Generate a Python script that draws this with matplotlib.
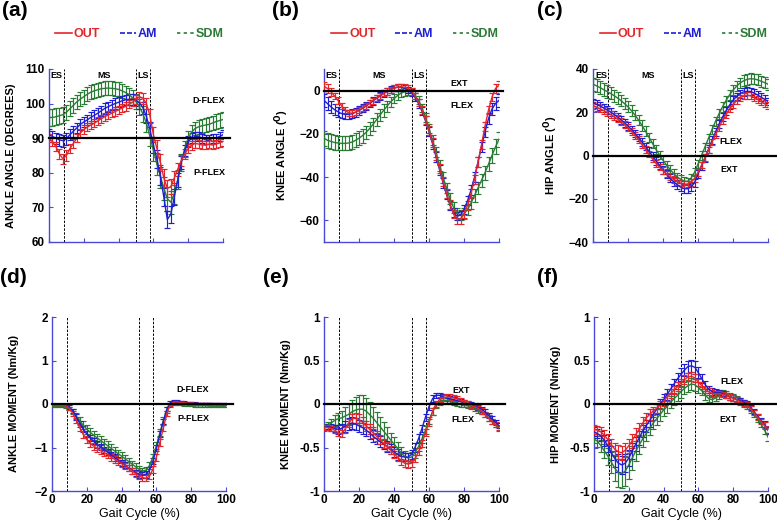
import numpy as np
import matplotlib
matplotlib.use('Agg')
import matplotlib.pyplot as plt
from matplotlib.lines import Line2D

plt.rcParams['font.family'] = ['Liberation Sans', 'DejaVu Sans']

# gait cycle samples (%)
gait = list(range(0, 101, 2))

# ---- (a) ankle angle (degrees) ----
a_out = [90, 89, 87.5, 85.5, 84, 85, 87, 88.5, 90, 91.5,
         92.5, 93.2, 93.8, 94.3, 95, 95.6, 96.2, 96.7, 97.2, 97.7,
         98.2, 98.7, 99.2, 99.8, 100.4, 101.2, 102, 101.5, 100, 96.5,
         91, 87, 83, 78.5, 75.5, 76, 78.5, 81, 83.5, 85.5,
         87, 88, 88.5, 88.3, 88, 88, 88.3, 88, 88.3, 88.7, 89]
a_out_sd = [1.2, 1.2, 1.3, 1.4, 1.5, 1.5, 1.4, 1.3, 1.2, 1.2,
            1.2, 1.2, 1.2, 1.2, 1.2, 1.2, 1.2, 1.2, 1.2, 1.2,
            1.2, 1.2, 1.2, 1.2, 1.2, 1.3, 1.4, 1.5, 1.7, 2.0,
            2.2, 2.4, 2.5, 2.5, 2.4, 2.2, 2.0, 1.8, 1.6, 1.5,
            1.4, 1.3, 1.2, 1.2, 1.2, 1.2, 1.2, 1.2, 1.2, 1.2, 1.2]
a_am = [91, 90.5, 90, 89.5, 89.3, 89.8, 91, 92, 93, 94,
        94.7, 95.3, 96, 96.6, 97.2, 97.9, 98.6, 99.1, 99.6, 100,
        100.4, 100.8, 101.1, 101.2, 101.2, 101, 100.2, 98.8, 96.3, 92.5,
        88, 84, 79, 73, 66.5, 68, 73, 78, 83, 86.5,
        89, 90, 90.5, 90.5, 90, 89.5, 89.5, 90, 90, 90.5, 91]
a_am_sd = [1.6, 1.6, 1.6, 1.7, 1.7, 1.7, 1.6, 1.6, 1.5, 1.5,
           1.5, 1.5, 1.5, 1.5, 1.5, 1.5, 1.5, 1.5, 1.5, 1.5,
           1.5, 1.5, 1.5, 1.5, 1.5, 1.6, 1.7, 1.8, 2.0, 2.2,
           2.4, 2.5, 2.6, 2.6, 2.5, 2.4, 2.2, 2.0, 1.8, 1.6,
           1.5, 1.4, 1.3, 1.3, 1.3, 1.3, 1.3, 1.3, 1.3, 1.3, 1.3]
a_sdm = [96, 96, 96.2, 96.5, 96.8, 97.5, 98.5, 99.5, 100.5, 101.3,
         102, 102.7, 103.3, 103.7, 104, 104.3, 104.4, 104.5, 104.4, 104.3,
         104.1, 103.7, 103.2, 102.6, 101.7, 100.6, 99, 97, 94.3, 90.5,
         86.5, 82.5, 79, 75.5, 72.5, 71.5, 74, 78, 83, 87,
         90, 91.8, 92.8, 93.3, 93.6, 93.8, 94, 94.4, 94.8, 95.1, 95.4]
a_sdm_sd = [2.4, 2.4, 2.4, 2.3, 2.3, 2.2, 2.2, 2.1, 2.1, 2.0,
            2.0, 2.0, 2.0, 2.0, 2.0, 2.0, 2.0, 2.0, 2.0, 2.0,
            2.0, 2.0, 2.0, 2.0, 2.1, 2.2, 2.3, 2.4, 2.6, 2.8,
            3.0, 3.2, 3.3, 3.4, 3.4, 3.3, 3.1, 2.8, 2.5, 2.3,
            2.2, 2.1, 2.0, 2.0, 2.0, 2.0, 2.0, 2.1, 2.2, 2.2, 2.3]

# ---- (b) knee angle (deg) ----
b_out = [2, 1, -0.5, -2.5, -4.5, -7, -9, -10.2, -10.5, -10,
         -9, -8, -7, -5.8, -4.6, -3.4, -2.3, -1.3, -0.4, 0.4,
         1.1, 1.6, 1.8, 1.6, 1, -0.3, -2.5, -5.5, -9, -13.5,
         -18.5, -24, -30, -36, -42, -47.5, -52.5, -57, -59.5, -59.5,
         -57, -53, -47.5, -41, -33, -25, -16.5, -9, -3, 1, 2.5]
b_out_sd = [2.2, 2.0, 1.8, 1.6, 1.5, 1.4, 1.4, 1.4, 1.4, 1.4,
            1.4, 1.4, 1.4, 1.4, 1.4, 1.4, 1.4, 1.4, 1.4, 1.4,
            1.4, 1.4, 1.4, 1.4, 1.4, 1.5, 1.6, 1.7, 1.8, 1.9,
            2.0, 2.1, 2.2, 2.2, 2.2, 2.2, 2.1, 2.0, 2.0, 2.0,
            2.0, 2.1, 2.2, 2.2, 2.2, 2.2, 2.1, 2.0, 2.0, 2.0, 2.0]
b_am = [-4.5, -6, -7.5, -8.8, -9.8, -10.6, -11, -11, -10.7, -10,
        -9.2, -8.2, -7.1, -6, -4.8, -3.6, -2.5, -1.4, -0.4, 0.5,
        1.2, 1.6, 1.6, 1.2, 0.3, -1, -3, -6, -9.5, -14,
        -19, -24.5, -30.5, -36.5, -42.5, -48, -53, -56.5, -58, -57.5,
        -55, -51, -46, -40, -33, -26, -19, -13, -8.5, -6, -4.5]
b_am_sd = [3.0, 2.9, 2.8, 2.6, 2.4, 2.2, 2.0, 2.0, 2.0, 2.0,
           1.9, 1.9, 1.8, 1.8, 1.8, 1.7, 1.7, 1.7, 1.6, 1.6,
           1.6, 1.6, 1.6, 1.6, 1.6, 1.7, 1.8, 1.9, 2.0, 2.1,
           2.2, 2.3, 2.3, 2.3, 2.3, 2.2, 2.1, 2.0, 2.0, 2.0,
           2.0, 2.1, 2.2, 2.2, 2.2, 2.3, 2.4, 2.6, 2.8, 3.0, 3.0]
b_sdm = [-22, -23, -23.5, -24, -24.2, -24.4, -24.4, -24.2, -23.8, -23,
         -22, -20.8, -19.4, -17.6, -15.6, -13.5, -11.3, -9.2, -7.2, -5.3,
         -3.7, -2.3, -1.2, -0.5, -0.3, -0.8, -2.2, -4.5, -8, -12.5,
         -17.5, -23, -28.5, -34.5, -40, -45, -50, -54, -56.5, -57.5,
         -57, -55, -52, -48.5, -45, -41.5, -38, -34, -30, -26, -22.5]
b_sdm_sd = [3.4, 3.4, 3.3, 3.3, 3.2, 3.2, 3.2, 3.2, 3.2, 3.2,
            3.2, 3.2, 3.1, 3.1, 3.0, 3.0, 2.9, 2.8, 2.6, 2.4,
            2.2, 2.0, 1.9, 1.8, 1.8, 1.8, 1.8, 1.9, 2.0, 2.1,
            2.2, 2.3, 2.4, 2.5, 2.5, 2.5, 2.5, 2.4, 2.4, 2.4,
            2.5, 2.6, 2.7, 2.8, 2.9, 3.0, 3.1, 3.2, 3.3, 3.4, 3.4]

# ---- (c) hip angle (deg) ----
c_out = [23, 22.3, 21.6, 20.8, 20, 19, 18, 16.9, 15.7, 14.4,
         13, 11.2, 9.3, 7.2, 5, 2.8, 0.6, -1.6, -3.6, -5.4,
         -7, -8.5, -9.8, -11, -12, -12.8, -13.3, -13.2, -12.4, -10.6,
         -7.8, -4.5, -1, 2.6, 6.2, 9.7, 13, 16.2, 19, 21.5,
         23.6, 25.3, 26.6, 27.5, 27.8, 27.6, 26.9, 26, 25, 24, 23]
c_out_sd = [1.6, 1.6, 1.6, 1.6, 1.6, 1.6, 1.6, 1.6, 1.6, 1.6,
            1.6, 1.6, 1.6, 1.6, 1.6, 1.5, 1.5, 1.5, 1.5, 1.5,
            1.5, 1.5, 1.5, 1.5, 1.5, 1.5, 1.5, 1.5, 1.5, 1.5,
            1.5, 1.5, 1.5, 1.5, 1.5, 1.5, 1.6, 1.6, 1.6, 1.6,
            1.6, 1.6, 1.6, 1.6, 1.6, 1.6, 1.6, 1.6, 1.6, 1.6, 1.6]
c_am = [24.5, 23.7, 22.9, 22, 21.1, 20.1, 19, 17.8, 16.5, 15.1,
        13.6, 12, 10.2, 8.3, 6.3, 4.2, 2, -0.2, -2.4, -4.6,
        -6.7, -8.7, -10.5, -12.1, -13.5, -14.6, -15.3, -15.4, -14.6, -12.6,
        -8.5, -4.8, -1, 3, 7, 10.8, 14.4, 17.7, 20.7, 23.3,
        25.5, 27.3, 28.6, 29.4, 29.7, 29.6, 28.9, 28, 27, 26, 25]
c_am_sd = [1.8, 1.8, 1.8, 1.8, 1.8, 1.8, 1.8, 1.8, 1.8, 1.8,
           1.8, 1.8, 1.8, 1.8, 1.8, 1.8, 1.8, 1.8, 1.8, 1.8,
           1.8, 1.8, 1.9, 1.9, 2.0, 2.0, 2.0, 2.0, 2.0, 1.9,
           1.9, 1.8, 1.8, 1.8, 1.8, 1.8, 1.8, 1.8, 1.8, 1.8,
           1.8, 1.8, 1.8, 1.8, 1.8, 1.8, 1.8, 1.8, 1.8, 1.8, 1.8]
c_sdm = [33, 32.2, 31.4, 30.5, 29.6, 28.7, 27.7, 26.6, 25.4, 24,
         22.5, 20.7, 18.7, 16.4, 13.9, 11.2, 8.4, 5.6, 2.8, 0.2,
         -2.2, -4.4, -6.4, -8.2, -9.8, -11, -11.8, -12, -10.5, -7.8,
         -4, 0, 4, 8, 12, 15.8, 19.3, 22.5, 25.4, 28,
         30.2, 32, 33.5, 34.5, 35.2, 35.5, 35.4, 35, 34.4, 33.7, 33]
c_sdm_sd = [3.0, 3.0, 2.9, 2.9, 2.8, 2.8, 2.8, 2.7, 2.7, 2.6,
            2.6, 2.5, 2.5, 2.4, 2.4, 2.3, 2.2, 2.1, 2.0, 2.0,
            1.9, 1.9, 1.8, 1.8, 1.8, 1.8, 1.8, 1.8, 1.8, 1.8,
            1.9, 1.9, 2.0, 2.0, 2.1, 2.1, 2.2, 2.2, 2.3, 2.3,
            2.4, 2.4, 2.5, 2.5, 2.5, 2.5, 2.5, 2.5, 2.5, 2.5, 2.5]

# ---- (d) ankle moment (Nm/Kg) ----
d_out = [-0.02, -0.02, -0.03, -0.03, -0.04, -0.1, -0.22, -0.38, -0.55, -0.7,
         -0.82, -0.91, -0.97, -1.02, -1.07, -1.12, -1.17, -1.22, -1.27, -1.32,
         -1.37, -1.42, -1.48, -1.54, -1.6, -1.65, -1.69, -1.71, -1.66, -1.5,
         -1.22, -0.88, -0.55, -0.22, -0.01, 0.05, 0.05, 0.04, 0.03, 0.02,
         0.02, 0.01, 0.01, 0.01, 0.01, 0.01, 0, 0, 0, -0.01, -0.01]
d_out_sd = [0.02, 0.02, 0.02, 0.02, 0.03, 0.04, 0.05, 0.06, 0.07, 0.08,
            0.08, 0.08, 0.08, 0.08, 0.08, 0.08, 0.08, 0.08, 0.08, 0.08,
            0.07, 0.07, 0.07, 0.07, 0.07, 0.07, 0.07, 0.07, 0.07, 0.08,
            0.08, 0.08, 0.07, 0.06, 0.04, 0.03, 0.03, 0.02, 0.02, 0.02,
            0.02, 0.02, 0.02, 0.02, 0.02, 0.02, 0.02, 0.02, 0.02, 0.02, 0.02]
d_am = [-0.01, -0.01, -0.02, -0.02, -0.03, -0.07, -0.16, -0.3, -0.45, -0.58,
        -0.69, -0.78, -0.86, -0.93, -0.99, -1.05, -1.11, -1.17, -1.23, -1.29,
        -1.35, -1.41, -1.47, -1.53, -1.58, -1.62, -1.64, -1.62, -1.52, -1.32,
        -1.02, -0.7, -0.4, -0.12, 0.03, 0.07, 0.07, 0.05, 0.04, 0.03,
        0.02, 0.02, 0.01, 0.01, 0.01, 0.01, 0.01, 0, 0, 0, 0]
d_am_sd = [0.02, 0.02, 0.02, 0.02, 0.03, 0.04, 0.05, 0.06, 0.07, 0.07,
           0.07, 0.07, 0.07, 0.07, 0.07, 0.07, 0.07, 0.07, 0.07, 0.07,
           0.07, 0.07, 0.07, 0.07, 0.07, 0.07, 0.07, 0.07, 0.07, 0.07,
           0.07, 0.07, 0.06, 0.05, 0.04, 0.03, 0.03, 0.02, 0.02, 0.02,
           0.02, 0.02, 0.02, 0.02, 0.02, 0.02, 0.02, 0.02, 0.02, 0.02, 0.02]
d_sdm = [-0.05, -0.05, -0.05, -0.05, -0.06, -0.1, -0.18, -0.28, -0.39, -0.49,
         -0.58, -0.65, -0.72, -0.78, -0.84, -0.9, -0.96, -1.02, -1.08, -1.14,
         -1.2, -1.26, -1.32, -1.38, -1.44, -1.5, -1.54, -1.52, -1.42, -1.22,
         -0.96, -0.66, -0.38, -0.14, -0.03, 0, 0, -0.01, -0.02, -0.03,
         -0.03, -0.04, -0.04, -0.04, -0.04, -0.05, -0.05, -0.05, -0.05, -0.05, -0.05]
d_sdm_sd = [0.02, 0.02, 0.02, 0.02, 0.03, 0.04, 0.06, 0.07, 0.08, 0.09,
            0.1, 0.1, 0.1, 0.1, 0.1, 0.1, 0.1, 0.1, 0.1, 0.09,
            0.09, 0.08, 0.08, 0.08, 0.08, 0.08, 0.08, 0.08, 0.08, 0.08,
            0.08, 0.08, 0.07, 0.06, 0.04, 0.03, 0.03, 0.02, 0.02, 0.02,
            0.02, 0.02, 0.02, 0.02, 0.02, 0.02, 0.02, 0.02, 0.02, 0.02, 0.02]

# ---- (e) knee moment (Nm/Kg) ----
e_out = [-0.27, -0.27, -0.28, -0.3, -0.33, -0.34, -0.29, -0.22, -0.17, -0.16,
         -0.18, -0.21, -0.25, -0.29, -0.33, -0.37, -0.41, -0.45, -0.49, -0.53,
         -0.57, -0.61, -0.65, -0.68, -0.69, -0.68, -0.63, -0.55, -0.45, -0.33,
         -0.21, -0.09, 0, 0.05, 0.07, 0.08, 0.08, 0.07, 0.06, 0.04,
         0.02, 0, -0.02, -0.03, -0.05, -0.08, -0.12, -0.16, -0.2, -0.24, -0.27]
e_out_sd = [0.03, 0.03, 0.03, 0.03, 0.04, 0.04, 0.04, 0.05, 0.05, 0.06,
            0.06, 0.06, 0.06, 0.06, 0.06, 0.06, 0.05, 0.05, 0.05, 0.05,
            0.05, 0.05, 0.05, 0.04, 0.04, 0.04, 0.04, 0.04, 0.04, 0.04,
            0.04, 0.04, 0.04, 0.03, 0.03, 0.03, 0.03, 0.03, 0.03, 0.03,
            0.03, 0.03, 0.03, 0.03, 0.03, 0.03, 0.03, 0.03, 0.03, 0.03, 0.03]
e_am = [-0.27, -0.26, -0.27, -0.28, -0.29, -0.28, -0.26, -0.23, -0.22, -0.23,
        -0.25, -0.27, -0.3, -0.33, -0.37, -0.4, -0.43, -0.46, -0.49, -0.52,
        -0.55, -0.58, -0.6, -0.61, -0.61, -0.58, -0.5, -0.4, -0.28, -0.15,
        -0.03, 0.06, 0.1, 0.1, 0.08, 0.07, 0.06, 0.05, 0.04, 0.03,
        0.02, 0, -0.01, -0.02, -0.04, -0.06, -0.09, -0.13, -0.17, -0.21, -0.25]
e_am_sd = [0.03, 0.03, 0.04, 0.04, 0.05, 0.05, 0.06, 0.07, 0.07, 0.07,
           0.07, 0.07, 0.07, 0.07, 0.07, 0.06, 0.06, 0.06, 0.06, 0.06,
           0.06, 0.06, 0.05, 0.05, 0.05, 0.05, 0.05, 0.05, 0.04, 0.04,
           0.04, 0.04, 0.03, 0.03, 0.03, 0.03, 0.03, 0.03, 0.03, 0.03,
           0.03, 0.03, 0.03, 0.03, 0.03, 0.03, 0.03, 0.03, 0.03, 0.03, 0.03]
e_sdm = [-0.27, -0.25, -0.22, -0.19, -0.17, -0.16, -0.14, -0.12, -0.09, -0.07,
         -0.06, -0.06, -0.08, -0.12, -0.16, -0.21, -0.26, -0.31, -0.36, -0.41,
         -0.46, -0.51, -0.56, -0.6, -0.62, -0.61, -0.56, -0.49, -0.4, -0.3,
         -0.19, -0.09, -0.01, 0.03, 0.04, 0.04, 0.03, 0.02, 0.01, 0,
         -0.01, -0.02, -0.03, -0.05, -0.07, -0.09, -0.12, -0.16, -0.2, -0.24, -0.28]
e_sdm_sd = [0.04, 0.04, 0.05, 0.06, 0.07, 0.08, 0.1, 0.12, 0.14, 0.15,
            0.16, 0.16, 0.15, 0.14, 0.13, 0.12, 0.11, 0.1, 0.09, 0.08,
            0.08, 0.07, 0.07, 0.06, 0.06, 0.06, 0.06, 0.05, 0.05, 0.05,
            0.04, 0.04, 0.04, 0.04, 0.04, 0.03, 0.03, 0.03, 0.03, 0.03,
            0.03, 0.03, 0.03, 0.03, 0.03, 0.03, 0.03, 0.03, 0.03, 0.03, 0.03]

# ---- (f) hip moment (Nm/Kg) ----
f_out = [-0.29, -0.3, -0.32, -0.36, -0.41, -0.47, -0.52, -0.55, -0.56, -0.53,
         -0.48, -0.42, -0.35, -0.29, -0.22, -0.16, -0.12, -0.08, -0.05, -0.01,
         0.03, 0.08, 0.12, 0.16, 0.2, 0.24, 0.28, 0.31, 0.32, 0.3,
         0.25, 0.21, 0.17, 0.14, 0.12, 0.12, 0.12, 0.11, 0.1, 0.08,
         0.07, 0.05, 0.03, 0.01, -0.01, -0.05, -0.1, -0.15, -0.2, -0.25, -0.29]
f_out_sd = [0.05, 0.05, 0.05, 0.06, 0.06, 0.07, 0.07, 0.08, 0.08, 0.08,
            0.08, 0.08, 0.07, 0.07, 0.07, 0.06, 0.06, 0.05, 0.05, 0.05,
            0.05, 0.05, 0.05, 0.05, 0.05, 0.05, 0.05, 0.05, 0.05, 0.05,
            0.04, 0.04, 0.04, 0.04, 0.04, 0.03, 0.03, 0.03, 0.03, 0.03,
            0.03, 0.03, 0.03, 0.03, 0.03, 0.03, 0.03, 0.03, 0.03, 0.04, 0.04]
f_am = [-0.32, -0.34, -0.37, -0.42, -0.48, -0.56, -0.63, -0.68, -0.7, -0.68,
        -0.62, -0.54, -0.46, -0.39, -0.31, -0.25, -0.19, -0.12, -0.06, 0,
        0.05, 0.11, 0.17, 0.23, 0.29, 0.34, 0.39, 0.43, 0.44, 0.42,
        0.36, 0.29, 0.22, 0.17, 0.14, 0.13, 0.13, 0.12, 0.1, 0.08,
        0.07, 0.05, 0.04, 0.02, 0, -0.04, -0.09, -0.14, -0.19, -0.24, -0.3]
f_am_sd = [0.05, 0.05, 0.06, 0.06, 0.07, 0.08, 0.09, 0.1, 0.1, 0.1,
           0.09, 0.09, 0.08, 0.08, 0.07, 0.07, 0.07, 0.06, 0.06, 0.06,
           0.06, 0.06, 0.06, 0.06, 0.07, 0.07, 0.07, 0.07, 0.07, 0.07,
           0.06, 0.05, 0.05, 0.04, 0.04, 0.04, 0.03, 0.03, 0.03, 0.03,
           0.03, 0.03, 0.03, 0.03, 0.03, 0.03, 0.03, 0.03, 0.03, 0.04, 0.04]
f_sdm = [-0.4, -0.43, -0.48, -0.54, -0.6, -0.67, -0.74, -0.79, -0.8, -0.77,
         -0.7, -0.62, -0.54, -0.47, -0.4, -0.34, -0.28, -0.22, -0.17, -0.12,
         -0.07, -0.03, 0.02, 0.06, 0.1, 0.14, 0.18, 0.21, 0.23, 0.22,
         0.19, 0.15, 0.1, 0.06, 0.05, 0.07, 0.1, 0.12, 0.11, 0.09,
         0.07, 0.05, 0.03, 0.01, -0.02, -0.06, -0.11, -0.17, -0.23, -0.3, -0.38]
f_sdm_sd = [0.05, 0.06, 0.07, 0.08, 0.1, 0.12, 0.14, 0.16, 0.17, 0.17,
            0.16, 0.14, 0.12, 0.1, 0.09, 0.08, 0.08, 0.07, 0.07, 0.07,
            0.07, 0.07, 0.07, 0.07, 0.07, 0.07, 0.07, 0.07, 0.07, 0.07,
            0.06, 0.05, 0.05, 0.04, 0.04, 0.04, 0.04, 0.04, 0.04, 0.04,
            0.04, 0.04, 0.04, 0.04, 0.04, 0.04, 0.04, 0.04, 0.04, 0.04, 0.05]

group_names = ['OUT', 'AM', 'SDM']
phase_names = ['ES', 'MS', 'LS']
phase_lines = [8.5, 50, 58]

# colours / styles
red, blue, green = '#e3262b', '#1e1ed2', '#2b7a36'
spine_col = '#4a4ad6'
group_cols = [red, blue, green]
group_ls = ['-', (0, (3, 1.2)), (0, (2, 2))]

W, H = 777, 523
fig = plt.figure(figsize=(W / 100, H / 100), dpi=100)


def px_axes(left, top, right, bottom):
    return fig.add_axes([left / W, 1 - bottom / H, (right - left) / W, (bottom - top) / H])


def panel(ax, out, out_sd, am, am_sd, sdm, sdm_sd, ylim, yticks, ylabel,
          ref, ref_end, ann, bottom_row, ylab_x):
    # draw sdm first, red last (red sits on top)
    for m, s, c in [(sdm, sdm_sd, green), (am, am_sd, blue), (out, out_sd, red)]:
        ax.errorbar(gait, m, yerr=s, color=c, lw=1.0, elinewidth=0.85,
                    capsize=1.9, capthick=0.85, zorder=3)
    ax.plot([0, ref_end], [ref, ref], color='black', lw=1.6, clip_on=False, zorder=4)
    for xv in phase_lines:
        ax.axvline(xv, color='black', lw=0.7, ls=(0, (2.5, 1.5)), zorder=2)
    ax.set_xlim(0, 100)
    ax.set_ylim(*ylim)
    ax.set_yticks(yticks)
    ax.set_xticks([0, 20, 40, 60, 80, 100])
    for side in ['top', 'right']:
        ax.spines[side].set_visible(False)
    for side in ['left', 'bottom']:
        ax.spines[side].set_color(spine_col)
        ax.spines[side].set_linewidth(1.0)
    ax.tick_params(direction='in', length=3, color=spine_col, labelsize=8.5, pad=3)
    for lab in ax.get_yticklabels() + ax.get_xticklabels():
        lab.set_fontweight('bold')
    if not bottom_row:
        ax.tick_params(axis='x', labelbottom=False)
        # phase labels
        for xv, name in zip([4.5, 31.5, 54.2], phase_names):
            ax.text(xv, 0.965, name, transform=ax.get_xaxis_transform(), ha='center',
                    va='center', fontsize=6.5, fontweight='bold')
        handles = [Line2D([], [], color=c, ls=l, lw=1.2) for c, l in zip(group_cols, group_ls)]
        leg = ax.legend(handles, group_names, ncol=3, loc='center', frameon=False,
                        bbox_to_anchor=(0.52, 1.2), handlelength=1.3, handletextpad=0.15,
                        columnspacing=1.6, prop={'weight': 'bold', 'size': 9})
        for t, c in zip(leg.get_texts(), group_cols):
            t.set_color(c)
    else:
        ax.tick_params(axis='x', pad=2)
        ax.set_xlabel('Gait Cycle (%)', fontsize=9, fontweight='medium')
        ax.xaxis.set_label_coords(0.5, -0.095)
    ax.set_ylabel(ylabel, fontsize=8, fontweight='bold')
    ax.yaxis.set_label_coords(ylab_x, 0.5)
    for xv, yv, txt in ann:
        ax.text(xv, yv, txt, ha='center', va='center', fontsize=6.5, fontweight='bold')


ax_a = px_axes(49, 69, 223, 242)
ax_b = px_axes(324, 69, 499, 242)
ax_c = px_axes(593, 69, 768, 242)
ax_d = px_axes(52, 317, 226, 491)
ax_e = px_axes(324, 317, 499, 491)
ax_f = px_axes(594, 317, 768, 491)

panel(ax_a, a_out, a_out_sd, a_am, a_am_sd, a_sdm, a_sdm_sd, (60, 110),
      [60, 70, 80, 90, 100, 110], 'ANKLE ANGLE (DEGREES)', 90, 104,
      [(92, 101, 'D-FLEX'), (92, 80, 'P-FLEX')], False, -0.19)
panel(ax_b, b_out, b_out_sd, b_am, b_am_sd, b_sdm, b_sdm_sd, (-70, 10),
      [-60, -40, -20, 0], r'KNEE ANGLE ($^\mathbf{O}$)', 0, 102,
      [(77, 3.5, 'EXT'), (79, -7, 'FLEX')], False, -0.19)
panel(ax_c, c_out, c_out_sd, c_am, c_am_sd, c_sdm, c_sdm_sd, (-40, 40),
      [-40, -20, 0, 20, 40], r'HIP ANGLE ($^\mathbf{O}$)', 0, 106,
      [(79, 6.7, 'FLEX'), (78, -6.7, 'EXT')], False, -0.19)
panel(ax_d, d_out, d_out_sd, d_am, d_am_sd, d_sdm, d_sdm_sd, (-2, 2),
      [-2, -1, 0, 1, 2], 'ANKLE MOMENT (Nm/Kg)', 0, 104,
      [(81, 0.33, 'D-FLEX'), (81, -0.33, 'P-FLEX')], True, -0.19)
panel(ax_e, e_out, e_out_sd, e_am, e_am_sd, e_sdm, e_sdm_sd, (-1, 1),
      [-1, -0.5, 0, 0.5, 1], 'KNEE MOMENT (Nm/Kg)', 0, 103.5,
      [(78.5, 0.15, 'EXT'), (79.5, -0.18, 'FLEX')], True, -0.19)
panel(ax_f, f_out, f_out_sd, f_am, f_am_sd, f_sdm, f_sdm_sd, (-1, 1),
      [-1, -0.5, 0, 0.5, 1], 'HIP MOMENT (Nm/Kg)', 0, 106,
      [(79, 0.26, 'FLEX'), (77, -0.18, 'EXT')], True, -0.19)

ax_e.set_yticklabels(['-1', '-0.5', '0', '0.5', '1'], fontweight='bold')
ax_f.set_yticklabels(['-1', '-0.5', '0', '0.5', '1'], fontweight='bold')

# panel letters
for x, y, s in [(2, 1, '(a)'), (272, 1, '(b)'), (537, 1, '(c)'),
                (0, 268, '(d)'), (263, 268, '(e)'), (537, 268, '(f)')]:
    fig.text(x / W, 1 - y / H, s, ha='left', va='top', fontsize=15, fontweight='bold')

fig.savefig('out.png', dpi=100)
